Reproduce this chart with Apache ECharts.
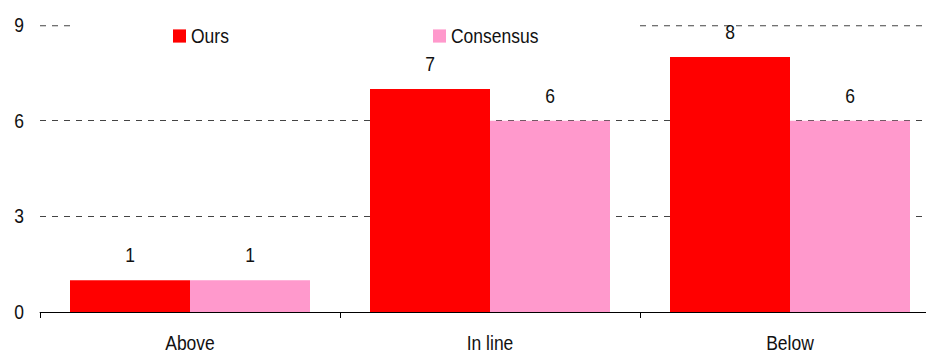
<!DOCTYPE html>
<html>
<head>
<meta charset="utf-8">
<script src="https://cdn.jsdelivr.net/npm/echarts@6/dist/echarts.min.js"></script>
<style>
  html, body { margin: 0; padding: 0; background: #fff; overflow: hidden; width: 926px; height: 354px; }
  /* the chart is laid out in a shorter box and stretched vertically,
     which gives the tall, narrow lettering of this house style */
  #chart { width: 940px; height: 295px; transform: scaleY(1.2); transform-origin: 0 0; }
</style>
</head>
<body>
<div id="chart"></div>
<script>
// Count of forecasts relative to the outcome, by bucket
const categories = ['Above', 'In line', 'Below'];
const oursValues = [1, 7, 8];
const consensusValues = [1, 6, 6];
const yTicks = [0, 3, 6, 9];

const FONT = '"Liberation Sans", Arial, sans-serif';
const FS = 17.5;
const TEXT = '#111';

const chart = echarts.init(document.getElementById('chart'), null, { renderer: 'svg' });

const barLabel = {
  show: true,
  position: 'top',
  distance: 12,
  color: TEXT,
  fontFamily: FONT,
  fontSize: FS
};

const legendBase = {
  itemWidth: 13, itemHeight: 11, itemGap: 5, icon: 'rect', z: 10, padding: 0,
  textStyle: { color: TEXT, fontFamily: FONT, fontSize: FS }
};

chart.setOption({
  animation: false,
  backgroundColor: '#fff',
  grid: { left: 40, right: 0, top: 21, bottom: 33 },
  legend: [
    Object.assign({ data: ['Ours'], left: 173, top: 21 }, legendBase),
    Object.assign({ data: ['Consensus'], left: 433, top: 21 }, legendBase)
  ],
  // white band behind the legend, interrupting the top gridline
  graphic: [{
    type: 'rect', z: 5, silent: true,
    shape: { x: 70, y: 15, width: 568, height: 14 },
    style: { fill: '#fff' }
  }],
  xAxis: {
    type: 'category',
    data: categories,
    axisLine: { lineStyle: { color: '#000', width: 0.85 } },
    axisTick: { show: true, length: 5, lineStyle: { color: '#000', width: 1 } },
    axisLabel: { color: TEXT, fontFamily: FONT, fontSize: FS, margin: 17 }
  },
  yAxis: {
    type: 'value',
    min: yTicks[0],
    max: yTicks[yTicks.length - 1],
    interval: yTicks[1] - yTicks[0],
    axisLine: { show: false },
    axisTick: { show: false },
    axisLabel: { color: TEXT, fontFamily: FONT, fontSize: FS, margin: 16 },
    splitLine: { show: true, lineStyle: { color: '#444', type: [6, 6], width: 0.85 } }
  },
  series: [
    {
      name: 'Ours', type: 'bar', data: oursValues,
      itemStyle: { color: '#FF0000' },
      barGap: '0%', barCategoryGap: '20%',
      label: barLabel
    },
    {
      name: 'Consensus', type: 'bar', data: consensusValues,
      itemStyle: { color: '#FF99CC' },
      barGap: '0%', barCategoryGap: '20%',
      label: barLabel
    }
  ]
});
</script>
</body>
</html>
